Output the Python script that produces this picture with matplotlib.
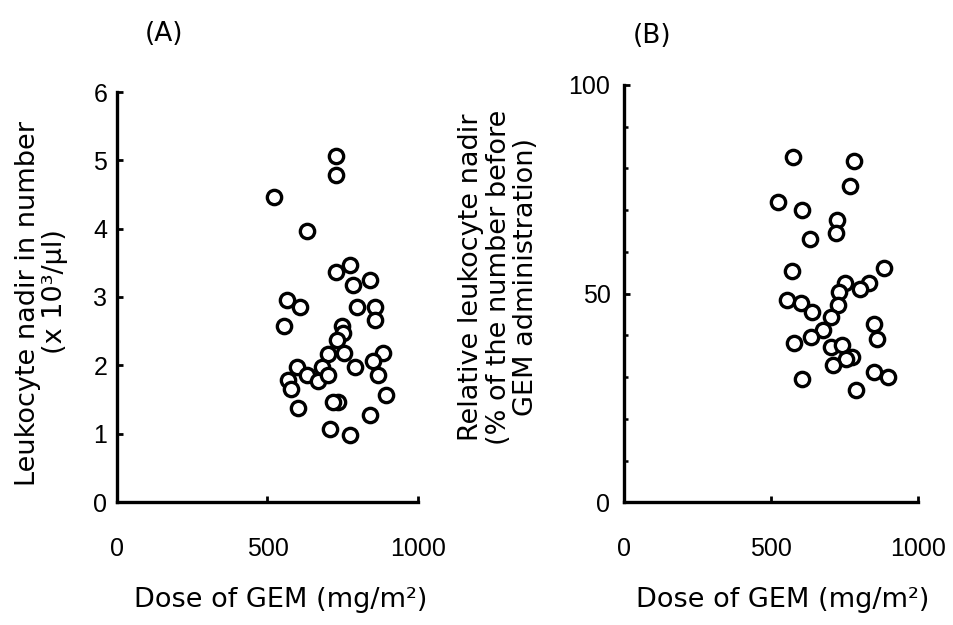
import matplotlib
matplotlib.use("Agg")
import matplotlib.pyplot as plt
from matplotlib.ticker import MultipleLocator

# ---------------- data ----------------
dose_a = [727, 727, 522, 630, 774, 727, 785, 840, 566, 608, 799, 856, 857, 555,
          747, 752, 732, 702, 755, 884, 851, 791, 597, 680, 569, 630, 669, 702,
          868, 578, 895, 602, 735, 719, 842, 709, 775]
nadir_a = [5.07, 4.79, 4.47, 3.97, 3.47, 3.37, 3.18, 3.25, 2.95, 2.86, 2.86, 2.86,
           2.66, 2.57, 2.58, 2.47, 2.37, 2.17, 2.18, 2.18, 2.07, 1.98, 1.98, 1.98,
           1.78, 1.86, 1.77, 1.86, 1.86, 1.65, 1.57, 1.37, 1.47, 1.46, 1.27, 1.07,
           0.98]

dose_b = [573, 783, 769, 525, 605, 723, 721, 632, 570, 885, 750, 834, 801, 730,
          554, 600, 726, 640, 704, 675, 851, 862, 634, 578, 704, 741, 775, 756,
          711, 849, 897, 606, 789]
rel_b = [82.7, 81.9, 75.9, 71.9, 70.1, 67.7, 64.5, 63.1, 55.4, 56.1, 52.6, 52.5,
         51.2, 50.3, 48.5, 47.7, 47.3, 45.6, 44.3, 41.3, 42.8, 39.2, 39.7, 38.2,
         37.3, 37.7, 34.9, 34.3, 32.8, 31.2, 30.0, 29.6, 27.0]

xticks = [0, 500, 1000]
yticks_a = [0, 1, 2, 3, 4, 5, 6]
yticks_b = [0, 50, 100]

W, H = 954, 625
fig = plt.figure(figsize=(W / 100, H / 100), dpi=100)
fig.patch.set_facecolor("white")

TICKFONT = "Liberation Sans"
LABFONT = "DejaVu Sans"


def px(x, y):
    return x / W, 1 - y / H


def style(ax, ypad):
    for s in ("top", "right"):
        ax.spines[s].set_visible(False)
    for s in ("left", "bottom"):
        ax.spines[s].set_linewidth(2.4)
        ax.spines[s].set_color("black")
        ax.spines[s].set_capstyle("projecting")
    ax.tick_params(axis="both", which="both", direction="in", color="black")
    ax.tick_params(axis="both", which="major", length=4, width=2)
    ax.tick_params(axis="y", which="minor", length=3, width=1.8)
    ax.tick_params(axis="x", pad=25, labelsize=18)
    ax.tick_params(axis="y", pad=ypad, labelsize=18)
    for lab in ax.get_xticklabels() + ax.get_yticklabels():
        lab.set_fontfamily(TICKFONT)
    ax.set_facecolor("none")


MS, MEW = 10.3, 2.4

# Panel A
axA = fig.add_axes([117 / W, 1 - 502 / H, (418 - 117) / W, (502 - 92) / H])
axA.plot(dose_a, nadir_a, linestyle="none", marker="o", ms=MS, mew=MEW,
         mfc="white", mec="black", clip_on=False)
axA.set_xlim(0, 1000)
axA.set_ylim(0, 6)
axA.set_xticks(xticks)
axA.set_yticks(yticks_a)
style(axA, 7)

# Panel B
axB = fig.add_axes([624.3 / W, 1 - 502.3 / H, (918 - 624.3) / W, (502.3 - 85) / H])
axB.plot(dose_b, rel_b, linestyle="none", marker="o", ms=MS, mew=MEW,
         mfc="white", mec="black", clip_on=False)
axB.set_xlim(0, 1000)
axB.set_ylim(0, 100)
axB.set_xticks(xticks)
axB.set_yticks(yticks_b)
axB.yaxis.set_minor_locator(MultipleLocator(10))
style(axB, 10)

# Panel titles
fig.text(*px(164, 34), "(A)", fontsize=19, family=LABFONT, ha="center", va="center")
fig.text(*px(652, 36), "(B)", fontsize=19, family=LABFONT, ha="center", va="center")

# X labels
fig.text(*px(281, 600), "Dose of GEM (mg/m²)", fontsize=19.5, family=LABFONT,
         ha="center", va="center")
fig.text(*px(783, 600), "Dose of GEM (mg/m²)", fontsize=19.5, family=LABFONT,
         ha="center", va="center")

# Y labels panel A
fig.text(*px(28, 304), "Leukocyte nadir in number", fontsize=19.5, family=LABFONT,
         rotation=90, ha="center", va="center", rotation_mode="anchor")
fig.text(*px(55, 292), "(x 10³/μl)", fontsize=19.5, family=LABFONT,
         rotation=90, ha="center", va="center", rotation_mode="anchor")

# Y labels panel B
fig.text(*px(471, 277), "Relative leukocyte nadir", fontsize=19.5, family=LABFONT,
         rotation=90, ha="center", va="center", rotation_mode="anchor")
fig.text(*px(499, 277), "(% of the number before", fontsize=19.5, family=LABFONT,
         rotation=90, ha="center", va="center", rotation_mode="anchor")
fig.text(*px(526, 277), "GEM administration)", fontsize=19.5, family=LABFONT,
         rotation=90, ha="center", va="center", rotation_mode="anchor")

fig.savefig("out.png", dpi=100, facecolor="white")
